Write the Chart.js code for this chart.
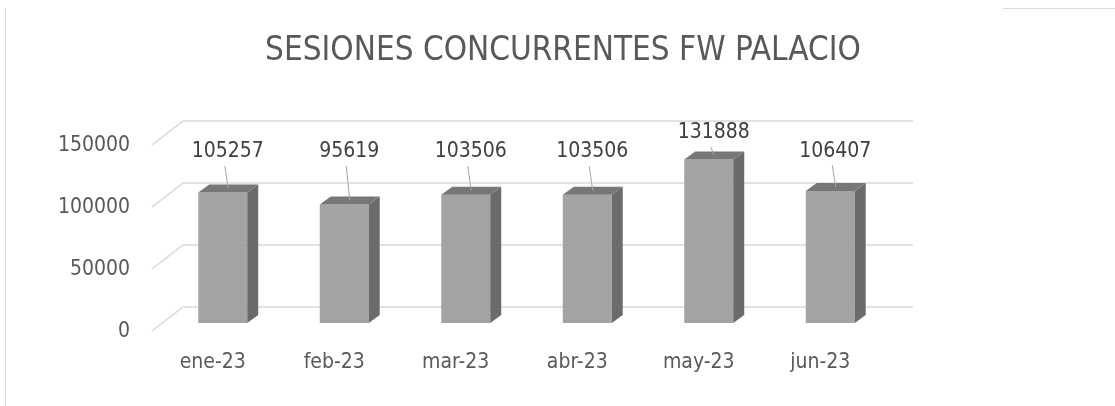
<!DOCTYPE html>
<html><head><meta charset="utf-8">
<script src="https://cdn.jsdelivr.net/npm/chart.js@4.4.0/dist/chart.umd.min.js"></script>
<style>html,body{margin:0;padding:0;background:#fff;}#wrap{width:1115px;height:406px;position:relative;}</style>
</head><body><div id="wrap"><canvas id="c" width="1115" height="406"></canvas></div>
<script>
const chartTitle = 'SESIONES CONCURRENTES FW PALACIO';
const categories = ['ene-23', 'feb-23', 'mar-23', 'abr-23', 'may-23', 'jun-23'];
const sessions = [105257, 95619, 103506, 103506, 131888, 106407];
const yTicks = [0, 50000, 100000, 150000];

const FONT = '"Liberation Sans Narrow", "DejaVu Sans Condensed", "Open Sans", sans-serif';
const TEXT = '#595959';
const GRID = '#d9d9d9';
const DX = 11, DY = 8; // bar depth

function makePattern(a, b) {
  const c = document.createElement('canvas');
  c.width = 4; c.height = 4;
  const g = c.getContext('2d');
  g.fillStyle = a; g.fillRect(0, 0, 4, 4);
  g.fillStyle = b;
  g.fillRect(0, 0, 1, 1); g.fillRect(2, 1, 1, 1); g.fillRect(1, 2, 1, 1); g.fillRect(3, 3, 1, 1);
  g.fillRect(2, 0, 1, 1); g.fillRect(0, 2, 1, 1);
  return g.createPattern(c, 'repeat');
}
const ctx0 = document.getElementById('c').getContext('2d');
const frontPat = makePattern('#a9a9a9', '#9a9a9a');
const topPat = makePattern('#7c7c7c', '#6f6f6f');

const framePlugin = {
  id: 'frame',
  beforeDraw(chart) {
    const ctx = chart.ctx;
    ctx.save();
    ctx.fillStyle = '#fff';
    ctx.fillRect(0, 0, chart.width, chart.height);
    ctx.strokeStyle = '#dcdcdc';
    ctx.lineWidth = 1;
    ctx.beginPath();
    ctx.moveTo(5.5, 8); ctx.lineTo(5.5, chart.height);
    ctx.moveTo(1003, 8.5); ctx.lineTo(chart.width, 8.5);
    ctx.stroke();
    ctx.fillStyle = TEXT;
    ctx.font = '33px ' + FONT;
    ctx.textAlign = 'center';
    ctx.textBaseline = 'middle';
    ctx.fillText(chartTitle, 563, 51);
    ctx.restore();
  }
};

const wallPlugin = {
  id: 'wall',
  beforeDatasetsDraw(chart) {
    const ctx = chart.ctx, y = chart.scales.y, a = chart.chartArea;
    ctx.save();
    ctx.strokeStyle = GRID;
    ctx.lineWidth = 1.5;
    yTicks.forEach(v => {
      const p = y.getPixelForValue(v);
      ctx.beginPath();
      ctx.moveTo(a.left - 10, p + 8);
      ctx.lineTo(a.left + 21, p - 16);
      ctx.lineTo(a.right + 22, p - 16);
      ctx.stroke();
    });
    ctx.restore();
  }
};

const barsPlugin = {
  id: 'bars3d',
  afterDatasetsDraw(chart) {
    const ctx = chart.ctx;
    const meta = chart.getDatasetMeta(0);
    ctx.save();
    meta.data.forEach((bar, i) => {
      const half = bar.width / 2;
      const l = bar.x - half, r = bar.x + half, t = bar.y, b = bar.base;
      // side
      ctx.fillStyle = '#6b6b6b';
      ctx.beginPath();
      ctx.moveTo(r, t); ctx.lineTo(r + DX, t - DY); ctx.lineTo(r + DX, b - DY); ctx.lineTo(r, b);
      ctx.closePath(); ctx.fill();
      // top
      ctx.fillStyle = topPat;
      ctx.beginPath();
      ctx.moveTo(l, t); ctx.lineTo(l + DX, t - DY); ctx.lineTo(r + DX, t - DY); ctx.lineTo(r, t);
      ctx.closePath(); ctx.fill();
      // data label
      const lx = bar.x + 5;
      const ly = Math.max(Math.min(t - 40, chart.chartArea.top + 15), chart.chartArea.top - 4);
      const tx = bar.x + DX / 2, ty = t - DY / 2;
      if (ty - (ly + 13) > 6) {
        ctx.strokeStyle = '#a6a6a6';
        ctx.lineWidth = 1;
        ctx.beginPath();
        ctx.moveTo(lx - 3, ly + 14);
        ctx.lineTo(tx, ty);
        ctx.stroke();
      }
      ctx.fillStyle = '#404040';
      ctx.font = '21px ' + FONT;
      ctx.textAlign = 'center';
      ctx.textBaseline = 'middle';
      ctx.fillText(String(sessions[i]), lx, ly);
    });
    ctx.restore();
  }
};

new Chart(document.getElementById('c'), {
  type: 'bar',
  data: {
    labels: categories,
    datasets: [{
      data: sessions,
      backgroundColor: frontPat,
      borderWidth: 0,
      barPercentage: 0.403,
      categoryPercentage: 1
    }]
  },
  options: {
    responsive: false,
    animation: false,
    devicePixelRatio: 1,
    layout: { padding: { top: 137, right: 224, left: 0, bottom: 0 } },
    plugins: { legend: { display: false }, title: { display: false }, tooltip: { enabled: false } },
    scales: {
      x: {
        grid: { display: false, drawTicks: false },
        border: { display: false },
        ticks: { color: TEXT, font: { family: FONT, size: 21 }, padding: 27, labelOffset: -10, maxRotation: 0 },
        afterFit(s) { s.height = 83; }
      },
      y: {
        min: 0, max: 150000,
        afterBuildTicks(s) { s.ticks = yTicks.map(v => ({ value: v })); },
        grid: { display: false, drawTicks: false },
        border: { display: false },
        ticks: { color: TEXT, font: { family: FONT, size: 21 }, padding: 32, labelOffset: 9, callback: v => String(v) },
        afterFit(s) { s.width = 162; }
      }
    }
  },
  plugins: [framePlugin, wallPlugin, barsPlugin]
});
</script></body></html>
